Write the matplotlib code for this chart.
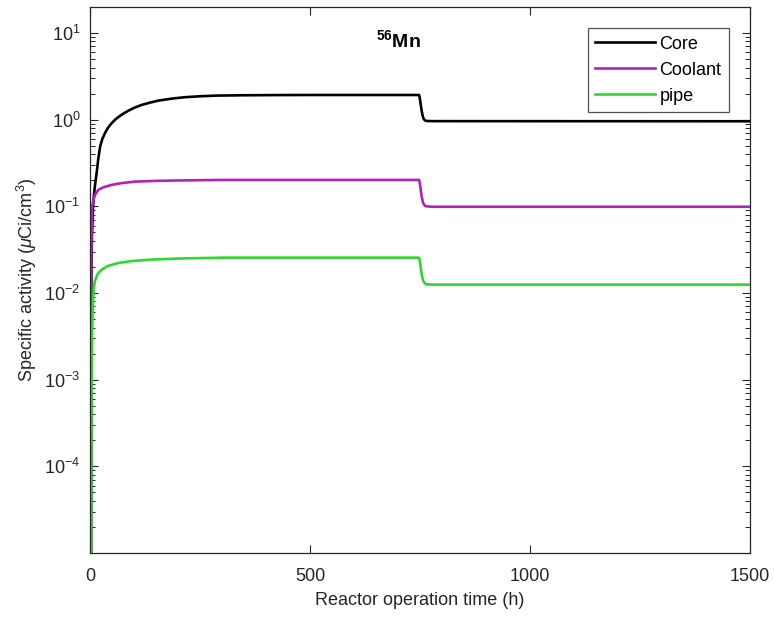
import matplotlib
matplotlib.use('Agg')
import matplotlib.pyplot as plt
from matplotlib.ticker import LogLocator, FixedLocator

plt.rcParams['font.family'] = ['Liberation Sans', 'DejaVu Sans']
plt.rcParams['mathtext.fontset'] = 'custom'
plt.rcParams['mathtext.rm'] = 'Liberation Sans'
plt.rcParams['mathtext.it'] = 'Liberation Sans:italic'
plt.rcParams['mathtext.bf'] = 'Liberation Sans:bold'
plt.rcParams['axes.unicode_minus'] = False

# values (time in h, activity in uCi/cm3)
t_core = [2.5, 3, 4, 6, 8, 11, 15, 19, 23, 28, 34, 41, 49, 56, 64, 75, 87,
          100, 117, 135, 155, 185, 216, 250, 290, 350, 420, 500, 748, 750,
          752, 754, 756, 758, 761, 765, 780, 1500]
core = [1e-6, 0.01, 0.04, 0.08, 0.12, 0.17, 0.242, 0.36, 0.49, 0.60, 0.70,
        0.81, 0.91, 0.99, 1.07, 1.17, 1.27, 1.37, 1.48, 1.57, 1.66, 1.75,
        1.82, 1.865, 1.90, 1.915, 1.925, 1.93, 1.93, 1.72, 1.45, 1.25, 1.11,
        1.03, 0.985, 0.967, 0.963, 0.96]

t_cool = [2.0, 2.5, 3, 4, 5, 7.6, 12, 19, 30, 49, 70, 102, 150, 200, 300,
          748, 750, 752, 754, 756, 758, 761, 765, 780, 1500]
coolant = [1e-6, 0.002, 0.03, 0.075, 0.1, 0.119, 0.138, 0.155, 0.166, 0.177,
           0.185, 0.193, 0.197, 0.199, 0.202, 0.202, 0.18, 0.15, 0.128,
           0.115, 0.107, 0.102, 0.1, 0.099, 0.099]

t_pipe = [2.5, 3, 3.5, 4, 5, 7, 9, 11, 18, 26.5, 40, 64, 95, 140, 200, 300,
          748, 750, 752, 754, 756, 758, 761, 765, 780, 1500]
pipe = [1e-6, 1e-4, 6e-4, 0.0015, 0.004, 0.0085, 0.0118, 0.0138, 0.0168,
        0.0186, 0.0205, 0.0222, 0.0234, 0.0243, 0.025, 0.0256, 0.0256,
        0.0227, 0.019, 0.0163, 0.0146, 0.0136, 0.0129, 0.0126, 0.0125,
        0.0125]

series_names = ['Core', 'Coolant', 'pipe']

fig = plt.figure(figsize=(7.74, 6.24), dpi=100)
ax = fig.add_axes([0.1163, 0.1138, 0.8527, 0.875])

ax.plot(t_core, core, color='black', lw=1.9, label=series_names[0])
ax.plot(t_cool, coolant, color='#B420BC', lw=1.9, label=series_names[1])
ax.plot(t_pipe, pipe, color='#2FD82F', lw=1.9, label=series_names[2])

ax.set_yscale('log')
ax.set_xlim(0, 1500)
ax.set_ylim(1e-5, 20)
ax.xaxis.set_major_locator(FixedLocator([0, 500, 1000, 1500]))
ax.yaxis.set_major_locator(FixedLocator([1e-4, 1e-3, 1e-2, 1e-1, 1, 10]))
ax.yaxis.set_minor_locator(LogLocator(base=10, subs=range(2, 10), numticks=20))
ax.tick_params(which='both', direction='in', top=True, right=True,
               labelsize=13, colors='#262626')
ax.tick_params(which='major', length=6, width=0.8)
ax.tick_params(which='minor', length=3.5, width=0.7)
ax.tick_params(axis='x', pad=11)
ax.tick_params(axis='y', pad=7)
for s in ax.spines.values():
    s.set_color('#262626')
    s.set_linewidth(0.9)

ax.set_xlabel('Reactor operation time (h)', fontsize=13, color='#262626',
              labelpad=5)
ax.set_ylabel(r'Specific activity ($\mu$Ci/cm$^3$)', fontsize=13,
              color='#262626', labelpad=4)

ax.text(0.467, 0.94, r'$\mathbf{^{56}Mn}$', transform=ax.transAxes,
        ha='center', va='center', fontsize=14)

leg = ax.legend(loc='upper right', bbox_to_anchor=(0.968, 0.9615),
                fontsize=13, handlelength=3.3, handletextpad=0.25,
                labelspacing=0.5, borderpad=0.42, borderaxespad=0,
                frameon=True, fancybox=False)
leg.get_frame().set_edgecolor('#262626')
leg.get_frame().set_linewidth(0.9)

fig.savefig('out.png', dpi=100)
